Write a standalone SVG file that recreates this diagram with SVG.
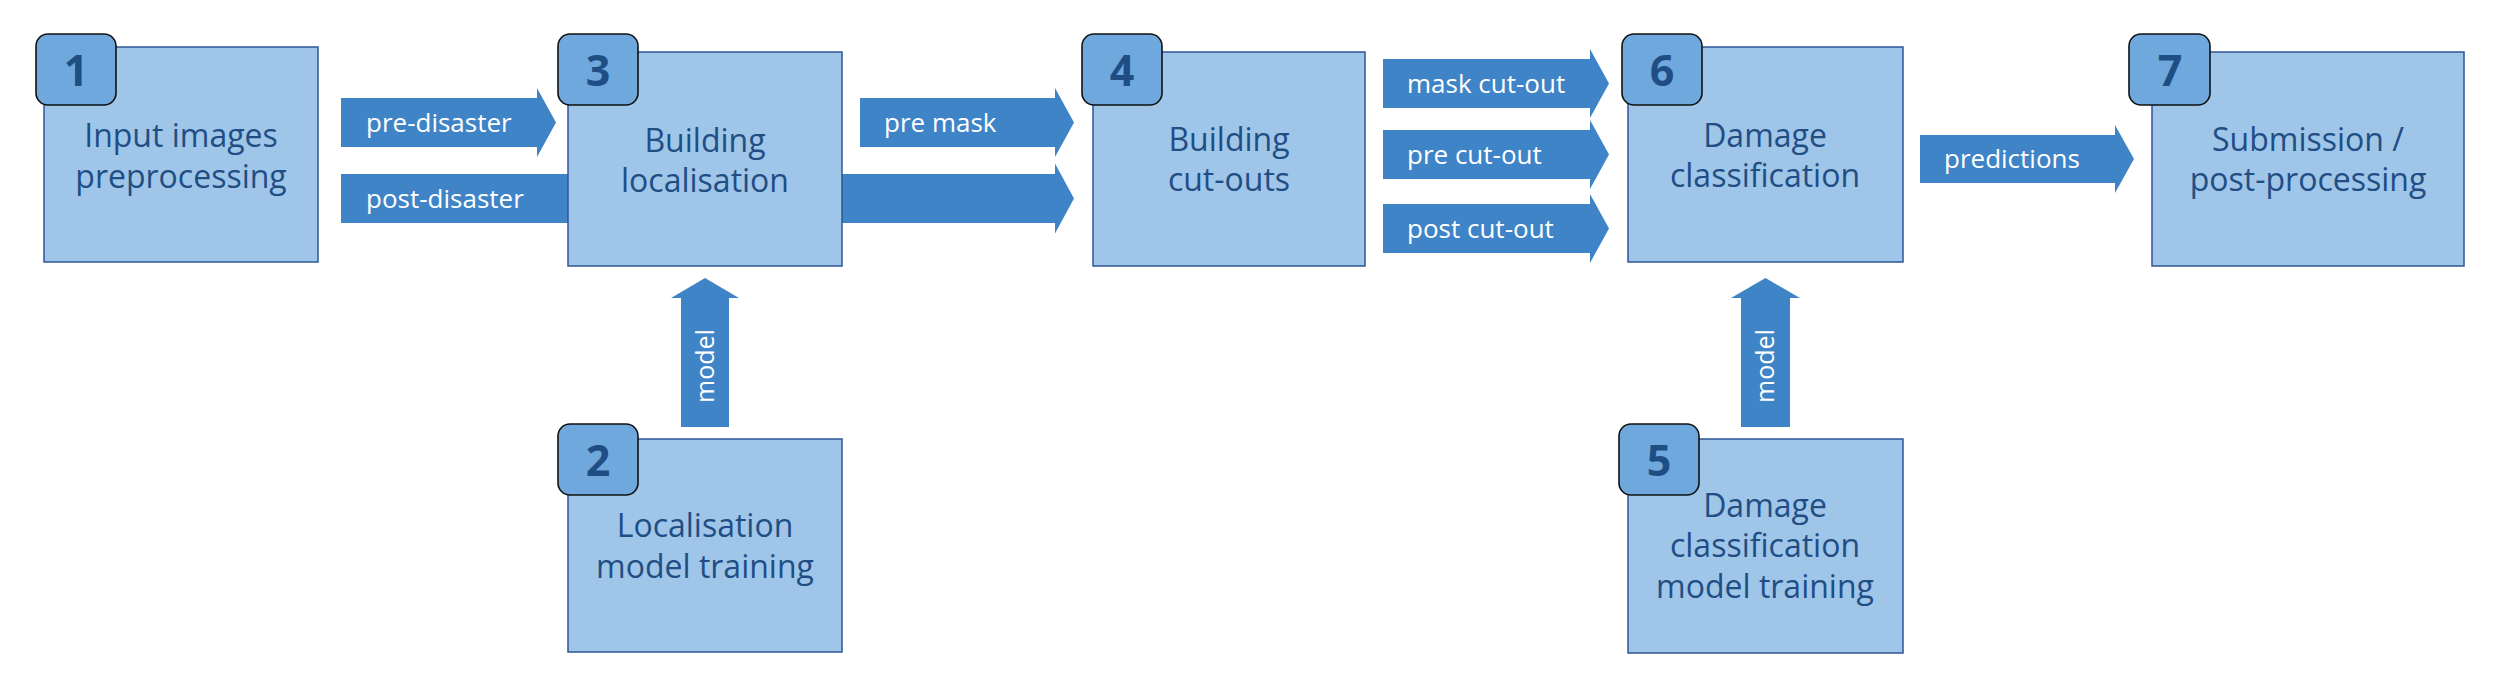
<svg xmlns="http://www.w3.org/2000/svg" width="2500" height="687" viewBox="0 0 2500 687">
<style>
.box{fill:#9fc5e8;stroke:#2f5597;stroke-width:1.5}
.badge{fill:#6fa8dc;stroke:#111;stroke-width:1.6}
.num{font-family:"Open Sans","Liberation Sans",sans-serif;font-weight:bold;font-size:43px;fill:#1f4e85;text-anchor:middle}
.txt{font-family:"Open Sans","Liberation Sans",sans-serif;font-size:32px;fill:#1f4e85;text-anchor:middle}
.arr{fill:#3f84c6}
.lbl{font-family:"Open Sans","Liberation Sans",sans-serif;font-size:26px;fill:#ffffff}
.vlbl{font-family:"Open Sans","Liberation Sans",sans-serif;font-size:25px;fill:#ffffff;text-anchor:middle}
</style>
<rect width="2500" height="687" fill="#ffffff"/>
<g id="connectors">
  <polygon class="arr" points="341,98 537,98 537,88 556,122.5 537,157 537,147 341,147"/>
  <text class="lbl" x="366" y="132">pre-disaster</text>
  <polygon class="arr" points="341,174 1055,174 1055,163.5 1074,198.5 1055,233.5 1055,223 341,223"/>
  <text class="lbl" x="366" y="208">post-disaster</text>
  <polygon class="arr" points="860,98 1055,98 1055,88 1074,122.5 1055,157 1055,147 860,147"/>
  <text class="lbl" x="884" y="132">pre mask</text>
  <polygon class="arr" points="1383,59 1590,59 1590,49 1609,83.5 1590,118 1590,108 1383,108"/>
  <text class="lbl" x="1407" y="93">mask cut-out</text>
  <polygon class="arr" points="1383,130 1590,130 1590,120 1609,154.5 1590,189 1590,179 1383,179"/>
  <text class="lbl" x="1407" y="164">pre cut-out</text>
  <polygon class="arr" points="1383,204 1590,204 1590,194 1609,228.5 1590,263 1590,253 1383,253"/>
  <text class="lbl" x="1407" y="238">post cut-out</text>
  <polygon class="arr" points="1920,135 2115,135 2115,125 2134,159 2115,193 2115,183 1920,183"/>
  <text class="lbl" x="1944" y="168">predictions</text>
  <polygon class="arr" points="681,427 681,298 671,298 705,278 739,298 729,298 729,427"/>
  <text class="vlbl" transform="translate(714,366) rotate(-90)">model</text>
  <polygon class="arr" points="1741,427 1741,298 1731,298 1765.5,278 1800,298 1790,298 1790,427"/>
  <text class="vlbl" transform="translate(1774,366) rotate(-90)">model</text>
</g>
<g id="node1">
  <rect class="box" x="44" y="47" width="274" height="215"/>
  <rect class="badge" x="36" y="34" width="80" height="71" rx="12"/>
  <text class="num" x="76" y="86">1</text>
  <text class="txt" x="181" y="147">Input images</text>
  <text class="txt" x="181" y="188">preprocessing</text>
</g>
<g id="node3">
  <rect class="box" x="568" y="52" width="274" height="214"/>
  <rect class="badge" x="558" y="34" width="80" height="71" rx="12"/>
  <text class="num" x="598" y="86">3</text>
  <text class="txt" x="705" y="152">Building</text>
  <text class="txt" x="705" y="192">localisation</text>
</g>
<g id="node4">
  <rect class="box" x="1093" y="52" width="272" height="214"/>
  <rect class="badge" x="1082" y="34" width="80" height="71" rx="12"/>
  <text class="num" x="1122" y="86">4</text>
  <text class="txt" x="1229" y="151">Building</text>
  <text class="txt" x="1229" y="191">cut-outs</text>
</g>
<g id="node6">
  <rect class="box" x="1628" y="47" width="275" height="215"/>
  <rect class="badge" x="1622" y="34" width="80" height="71" rx="12"/>
  <text class="num" x="1662" y="86">6</text>
  <text class="txt" x="1765" y="147">Damage</text>
  <text class="txt" x="1765" y="187">classification</text>
</g>
<g id="node7">
  <rect class="box" x="2152" y="52" width="312" height="214"/>
  <rect class="badge" x="2129" y="34" width="81" height="71" rx="12"/>
  <text class="num" x="2170" y="86">7</text>
  <text class="txt" x="2308" y="151">Submission /</text>
  <text class="txt" x="2308" y="191">post-processing</text>
</g>
<g id="node2">
  <rect class="box" x="568" y="439" width="274" height="213"/>
  <rect class="badge" x="558" y="424" width="80" height="71" rx="12"/>
  <text class="num" x="598" y="476">2</text>
  <text class="txt" x="705" y="537">Localisation</text>
  <text class="txt" x="705" y="578">model training</text>
</g>
<g id="node5">
  <rect class="box" x="1628" y="439" width="275" height="214"/>
  <rect class="badge" x="1619" y="424" width="80" height="71" rx="12"/>
  <text class="num" x="1659" y="476">5</text>
  <text class="txt" x="1765" y="517">Damage</text>
  <text class="txt" x="1765" y="557">classification</text>
  <text class="txt" x="1765" y="598">model training</text>
</g>
</svg>
